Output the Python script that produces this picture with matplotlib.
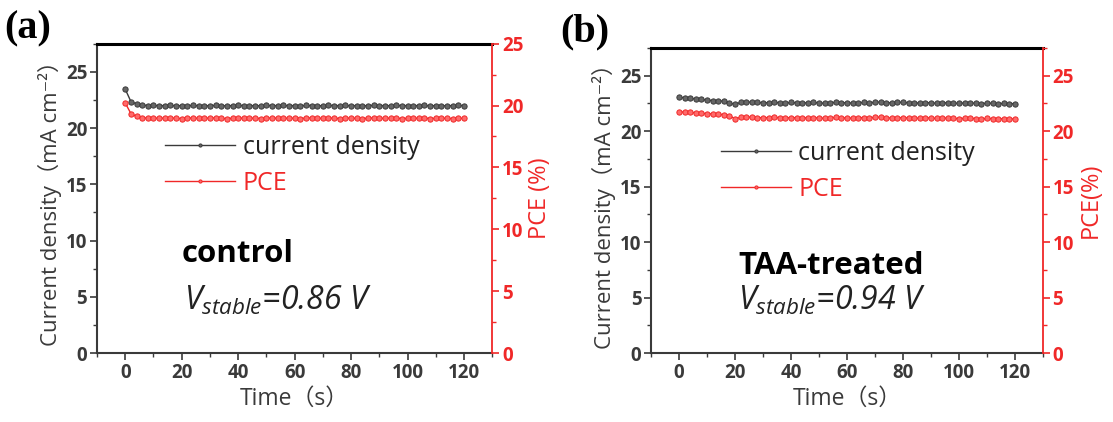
import numpy as np
import matplotlib
matplotlib.use("Agg")
import matplotlib.pyplot as plt
from matplotlib.ticker import MultipleLocator

plt.rcParams['font.family'] = ['Open Sans', 'Noto Sans CJK SC', 'DejaVu Sans']
plt.rcParams['mathtext.fontset'] = 'custom'
plt.rcParams['mathtext.rm'] = 'Open Sans'
plt.rcParams['mathtext.it'] = 'Open Sans:italic'
plt.rcParams['mathtext.bf'] = 'Open Sans:bold'

# time in seconds, one point every 2 s
time = list(range(0, 121, 2))

# (a) control
jsc_control = [23.45, 22.35, 22.15, 22.05, 22.0, 22.02, 21.98, 22.0, 22.01, 21.97,
               22.0, 21.99, 22.02, 21.98, 21.97, 22.0, 22.01, 21.99, 21.98, 22.0,
               22.02, 21.99, 21.98, 22.0, 21.97, 22.01, 22.0, 21.99, 22.02, 21.98,
               22.0, 21.97, 22.01, 22.0, 21.99, 21.98, 22.02, 22.0, 21.99, 22.01,
               21.98, 22.0, 21.97, 22.0, 22.02, 21.99, 22.0, 21.98, 22.01, 22.0,
               21.99, 21.98, 22.0, 22.01, 21.97, 22.0, 21.99, 21.98, 22.0, 22.01,
               21.99]
pce_control = [20.2, 19.35, 19.12, 19.02, 18.98, 19.0, 18.96, 18.99, 19.0, 18.97,
               18.95, 18.98, 19.0, 18.96, 18.97, 18.99, 19.0, 18.96, 18.95, 18.98,
               19.0, 18.97, 18.96, 18.99, 18.95, 18.98, 19.0, 18.97, 18.99, 18.96,
               18.98, 18.95, 18.99, 19.0, 18.97, 18.96, 18.99, 18.98, 18.95, 18.97,
               18.99, 18.96, 18.95, 18.98, 19.0, 18.97, 18.96, 18.98, 18.99, 18.95,
               18.97, 18.96, 18.98, 18.99, 18.95, 18.97, 18.98, 18.96, 18.95, 18.97,
               18.96]

# (b) TAA-treated
jsc_taa = [23.05, 23.0, 22.95, 22.9, 22.85, 22.8, 22.75, 22.72, 22.7, 22.55,
           22.4, 22.6, 22.62, 22.6, 22.58, 22.55, 22.57, 22.6, 22.55, 22.52,
           22.58, 22.55, 22.53, 22.56, 22.58, 22.54, 22.5, 22.55, 22.6, 22.57,
           22.55, 22.52, 22.56, 22.58, 22.55, 22.6, 22.62, 22.57, 22.54, 22.58,
           22.6, 22.55, 22.52, 22.54, 22.57, 22.55, 22.5, 22.53, 22.56, 22.52,
           22.5, 22.53, 22.55, 22.5, 22.48, 22.52, 22.5, 22.47, 22.5, 22.48,
           22.47]
pce_taa = [21.75, 21.7, 21.68, 21.65, 21.6, 21.58, 21.55, 21.52, 21.48, 21.4,
           21.1, 21.25, 21.28, 21.25, 21.22, 21.2, 21.22, 21.25, 21.2, 21.18,
           21.22, 21.2, 21.18, 21.2, 21.22, 21.18, 21.15, 21.2, 21.24, 21.2,
           21.18, 21.16, 21.2, 21.22, 21.2, 21.24, 21.26, 21.2, 21.18, 21.2,
           21.22, 21.18, 21.15, 21.17, 21.2, 21.18, 21.14, 21.16, 21.18, 21.15,
           21.13, 21.15, 21.17, 21.13, 21.1, 21.14, 21.12, 21.1, 21.12, 21.1,
           21.1]

GRAY = '#3a3a3a'
RED = '#f02828'

fig = plt.figure(figsize=(11.13, 4.22), dpi=100)


def panel(rect, jsc, pce, right_max, right_label, name, vtext, tag, tag_xy,
          leg_pos, name_pos, v_pos):
    ax = fig.add_axes(rect)
    ax2 = ax.twinx()
    l1, = ax.plot(time, jsc, color=GRAY, marker='o', ms=3.8, mew=0.7,
                  mfc='#666666', lw=1.0, label='current density')
    l2, = ax2.plot(time, pce, color=RED, marker='o', ms=3.8, mew=0.7,
                   mfc='#ff6a6a', lw=1.0, label='PCE')

    ax.set_xlim(-10, 130)
    ax.set_ylim(0, 27.5)
    ax2.set_ylim(0, right_max)
    ax.set_xticks(range(0, 121, 20))
    ax.xaxis.set_minor_locator(MultipleLocator(10))
    ax.yaxis.set_major_locator(MultipleLocator(5))
    ax.yaxis.set_minor_locator(MultipleLocator(2.5))
    ax2.yaxis.set_major_locator(MultipleLocator(5))
    ax2.yaxis.set_minor_locator(MultipleLocator(2.5))

    ax.tick_params(axis='both', which='major', length=5, width=1.2,
                   colors=GRAY, labelsize=13.5, pad=2)
    ax.tick_params(axis='both', which='minor', length=3, width=1.0, colors=GRAY)
    ax2.tick_params(axis='y', which='major', length=5, width=1.2,
                    colors=RED, labelsize=13.5, pad=2)
    ax2.tick_params(axis='y', which='minor', length=3, width=1.0, colors=RED)
    for t in ax.get_xticklabels() + ax.get_yticklabels() + ax2.get_yticklabels():
        t.set_fontweight('bold')

    ax.spines['top'].set_color('black')
    ax.spines['top'].set_linewidth(2.2)
    ax2.spines['top'].set_visible(False)
    for s in ('left', 'bottom'):
        ax.spines[s].set_color(GRAY)
        ax.spines[s].set_linewidth(1.5)
    ax2.spines['left'].set_visible(False)
    ax2.spines['bottom'].set_visible(False)
    ax2.spines['right'].set_color(RED)
    ax2.spines['right'].set_linewidth(1.3)
    ax.spines['right'].set_visible(False)

    ax.set_xlabel('Time（s）', fontsize=16.5, color=GRAY, labelpad=3)
    ax.set_ylabel('Current density（mA cm⁻²）', fontsize=16, color=GRAY,
                  labelpad=3)
    ax2.set_ylabel(right_label, fontsize=17, color=RED, labelpad=3)

    leg = ax.legend(handles=[l1, l2], loc='upper left', bbox_to_anchor=leg_pos,
                    frameon=False, fontsize=18, handlelength=2.8,
                    handletextpad=0.3, labelspacing=0.45, borderpad=0,
                    borderaxespad=0, markerscale=0.6)
    leg.get_texts()[0].set_color('#222222')
    leg.get_texts()[1].set_color(RED)

    ax.text(name_pos[0], name_pos[1], name, transform=ax.transAxes,
            fontsize=22.5, fontweight='bold', color='black', va='center')
    ax.text(v_pos[0], v_pos[1], vtext, transform=ax.transAxes,
            fontsize=23, style='italic', color='#222222', va='center')

    fig.text(tag_xy[0], tag_xy[1], tag, fontsize=29, fontweight='bold',
             family='Liberation Serif', color='black', va='center')
    return ax


panel([0.0872, 0.1635, 0.355, 0.733], jsc_control, pce_control, 25,
      'PCE (%)', 'control', '$V_{stable}$=0.86 V', '(a)', (0.004, 0.932),
      (0.172, 0.705), (0.215, 0.32), (0.22, 0.17))
panel([0.585, 0.1635, 0.352, 0.723], jsc_taa, pce_taa, 27.5,
      'PCE(%)', 'TAA-treated', '$V_{stable}$=0.94 V', '(b)', (0.503, 0.925),
      (0.178, 0.695), (0.222, 0.285), (0.222, 0.17))

fig.savefig('out.png', dpi=100)
